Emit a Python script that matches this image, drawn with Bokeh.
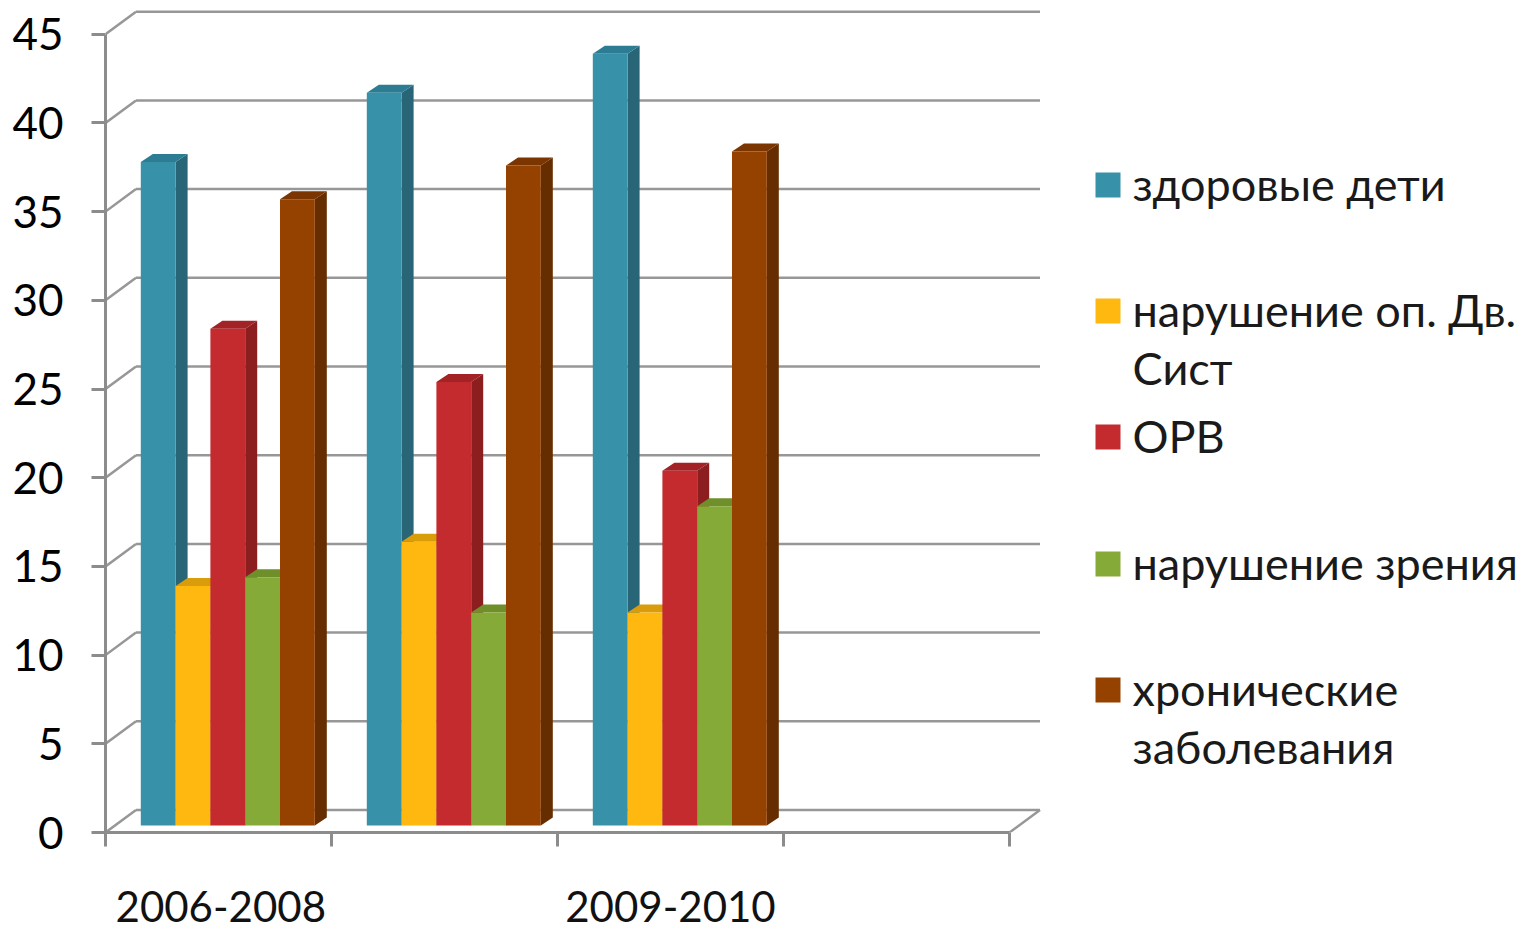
from bokeh.plotting import figure
from bokeh.models import Range1d, FixedTicker
from bokeh.core.properties import value
from bokeh.embed import file_html
from bokeh.resources import INLINE

# ---- data ----
period_labels = {0.51: "2006-2008", 2.5: "2009-2010"}
y_ticks = [0, 5, 10, 15, 20, 25, 30, 35, 40, 45]
group_index = [0, 1, 2]
healthy = [37.4, 41.3, 43.5]
musculo = [13.5, 16.0, 12.0]
orv = [28.0, 25.0, 20.0]
vision = [14.0, 12.0, 18.0]
chronic = [35.3, 37.2, 38.0]
series_names = ["здоровые дети", "нарушение оп. Дв.\nСист", "ОРВ", "нарушение зрения", "хронические\nзаболевания"]
series_values = [healthy, musculo, orv, vision, chronic]
front_colors = ["#3791A8", "#FFB80F", "#C42B2E", "#86AA37", "#954100"]
top_colors = ["#2C7D93", "#D99C0A", "#A32226", "#6F8F2B", "#7A3500"]
side_colors = ["#276577", "#C08A08", "#8C1E20", "#5F7A27", "#652D00"]

# ---- scale: page pixels per data unit ----
PX_X = 226.0
PX_Y = 17.74
FONT = "Lato"
GREY = "#979797"

W, H = 1530, 930
LEFT = 105
FRAME_BOTTOM = 832
x_end = (W - LEFT) / PX_X
y_end = FRAME_BOTTOM / PX_Y

p = figure(width=W, height=H, x_range=Range1d(0, x_end), y_range=Range1d(0, y_end),
           output_backend="svg", toolbar_location=None,
           min_border_left=LEFT, min_border_bottom=H - FRAME_BOTTOM, min_border_top=0, min_border_right=0)
p.outline_line_color = None
p.grid.visible = False

# axes
ya = p.yaxis[0]
ya.ticker = FixedTicker(ticks=y_ticks)
ya.bounds = (0, 45)
ya.axis_line_color = "#8c8c8c"
ya.axis_line_width = 3
ya.major_tick_line_color = "#8c8c8c"
ya.major_tick_line_width = 3
ya.major_tick_out = 14
ya.major_tick_in = 0
ya.minor_tick_line_color = None
ya.major_label_text_font = FONT
ya.major_label_text_font_size = "44px"
ya.major_label_text_color = "#000000"
ya.major_label_standoff = 28

xa = p.xaxis[0]
xa.ticker = FixedTicker(ticks=list(period_labels), minor_ticks=[0, 1, 2, 3, 4])
xa.major_label_overrides = period_labels
xa.bounds = (0, 4)
xa.axis_line_color = "#8c8c8c"
xa.axis_line_width = 3
xa.major_tick_line_color = None
xa.minor_tick_line_color = "#8c8c8c"
xa.minor_tick_line_width = 3
xa.minor_tick_out = 14
xa.minor_tick_in = 0
xa.major_tick_out = 0
xa.major_tick_in = 0
xa.major_label_text_font = FONT
xa.major_label_text_font_size = "42px"
xa.major_label_text_color = "#111111"
xa.major_label_standoff = 44

# 3-D walls
wall_dx = 30.5 / PX_X
wall_dy = 22.5 / PX_Y
x_back_end = 4 + wall_dx
p.segment(x0=[0] * len(y_ticks), y0=y_ticks,
          x1=[wall_dx] * len(y_ticks), y1=[t + wall_dy for t in y_ticks],
          line_color=GREY, line_width=2.5)
p.segment(x0=[wall_dx] * len(y_ticks), y0=[t + wall_dy for t in y_ticks],
          x1=[x_back_end] * len(y_ticks), y1=[t + wall_dy for t in y_ticks],
          line_color=GREY, line_width=2.5)
p.segment(x0=[4], y0=[0], x1=[x_back_end], y1=[wall_dy], line_color=GREY, line_width=2.5)

# 3-D bars
bar_w = 34.8 / PX_X
bar_start = 35.3 / PX_X
base = 7.0 / PX_Y
dx = 12.0 / PX_X
dy = 8.0 / PX_Y

for s, vals in enumerate(series_values):
    lefts = [g + bar_start + s * bar_w for g in group_index]
    rights = [l + bar_w for l in lefts]
    tops = [v + base for v in vals]
    side_x = [[r, r + dx, r + dx, r] for r in rights]
    side_y = [[base, base + dy, t + dy, t] for t in tops]
    top_x = [[l, l + dx, r + dx, r] for l, r in zip(lefts, rights)]
    top_y = [[t, t + dy, t + dy, t] for t in tops]
    p.patches(side_x, side_y, fill_color=side_colors[s], line_color=None)
    p.patches(top_x, top_y, fill_color=top_colors[s], line_color=None)
    p.quad(left=lefts, right=rights, bottom=[base] * 3, top=tops,
           fill_color=front_colors[s], line_color=None)

# legend: equal rows, swatch beside the first line of its label
row_centres = [184.5, 310.5, 436.5, 563.5, 689.5]
sw = 25
for name, col, cy in zip(series_names, front_colors, row_centres):
    x0 = (1095 - LEFT) / PX_X
    x1 = (1095 + sw - LEFT) / PX_X
    p.quad(left=[x0], right=[x1], bottom=[(FRAME_BOTTOM - cy - sw / 2) / PX_Y],
           top=[(FRAME_BOTTOM - cy + sw / 2) / PX_Y], fill_color=col, line_color=None)
    p.text(x=[(1132 - LEFT) / PX_X], y=[(FRAME_BOTTOM - cy + 28) / PX_Y], text=[name],
           text_font=value(FONT), text_font_size="45px", text_color="#1a1a1a",
           text_baseline="top", text_align="left", text_line_height=1.07)

open("out.html", "w").write(file_html(p, INLINE))
